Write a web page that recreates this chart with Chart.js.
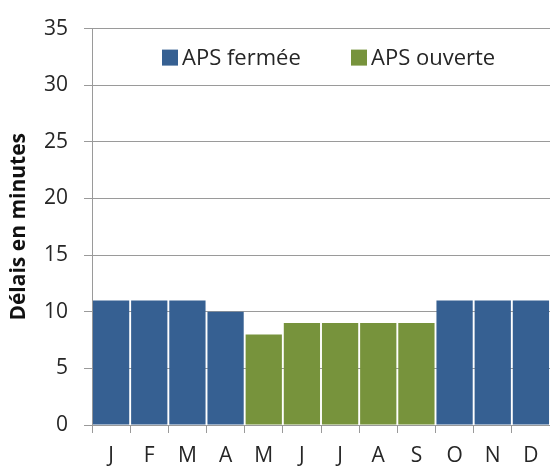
<!DOCTYPE html>
<html>
<head>
<meta charset="utf-8">
<script src="https://cdn.jsdelivr.net/npm/chart.js@4"></script>
<style>
  html, body { margin: 0; padding: 0; background: #fff; }
  #wrap { width: 550px; height: 468px; }
</style>
</head>
<body>
<div id="wrap"><canvas id="delaisChart" width="550" height="468"></canvas></div>
<script>
// Monthly delays, split by APS status
const months = ['J', 'F', 'M', 'A', 'M', 'J', 'J', 'A', 'S', 'O', 'N', 'D'];
const apsFermee = [11, 11, 11, 10, null, null, null, null, null, 11, 11, 11];
const apsOuverte = [null, null, null, null, 8, 9, 9, 9, 9, null, null, null];
const seriesLabels = ['APS fermée', 'APS ouverte'];
const yTicks = [0, 5, 10, 15, 20, 25, 30, 35];

const FONT = '"Open Sans", Lato, sans-serif';
const GRID = '#9a9a9a';
const TEXT = '#262626';

// legend drawn inside the plot, between the two top gridlines
const insideLegend = {
  id: 'insideLegend',
  afterDatasetsDraw(chart) {
    const ctx = chart.ctx;
    const area = chart.chartArea;
    const y = area.top + 29;
    const starts = [area.left + 70, area.left + 259];
    ctx.save();
    ctx.font = '22px ' + FONT;
    ctx.textBaseline = 'middle';
    chart.data.datasets.forEach((ds, i) => {
      const x = starts[i];
      ctx.fillStyle = ds.backgroundColor;
      ctx.fillRect(x, y - 8, 16, 16);
      ctx.fillStyle = TEXT;
      ctx.fillText(ds.label, x + 20, y + 1);
    });
    ctx.restore();
  }
};

new Chart(document.getElementById('delaisChart').getContext('2d'), {
  type: 'bar',
  data: {
    labels: months,
    datasets: [
      {
        label: seriesLabels[0],
        data: apsFermee,
        backgroundColor: '#366092',
        barPercentage: 0.95,
        categoryPercentage: 1
      },
      {
        label: seriesLabels[1],
        data: apsOuverte,
        backgroundColor: '#77933c',
        barPercentage: 0.95,
        categoryPercentage: 1
      }
    ]
  },
  options: {
    responsive: false,
    animation: false,
    layout: { padding: { top: 10, right: 0, bottom: 0, left: 0 } },
    plugins: {
      legend: { display: false },
      tooltip: { enabled: false }
    },
    scales: {
      x: {
        stacked: true,
        afterFit: s => { s.height = 43; },
        grid: {
          offset: true,
          drawOnChartArea: false,
          color: GRID,
          tickLength: 8
        },
        border: { color: GRID, width: 1 },
        ticks: {
          color: TEXT,
          font: { family: FONT, size: 21 },
          padding: 10,
          maxRotation: 0
        }
      },
      y: {
        stacked: true,
        min: 0,
        max: 35,
        afterFit: s => { s.width = 92; },
        afterBuildTicks: s => { s.ticks = yTicks.map(v => ({ value: v })); },
        grid: { color: GRID, tickLength: 8 },
        border: { color: GRID, width: 1 },
        ticks: {
          color: TEXT,
          font: { family: FONT, size: 21 },
          padding: 16
        },
        title: {
          display: true,
          text: 'Délais en minutes',
          color: '#111',
          font: { family: FONT, size: 21, weight: 'bold' },
          padding: { top: 6, bottom: 0 }
        }
      }
    }
  },
  plugins: [insideLegend]
});
</script>
</body>
</html>
